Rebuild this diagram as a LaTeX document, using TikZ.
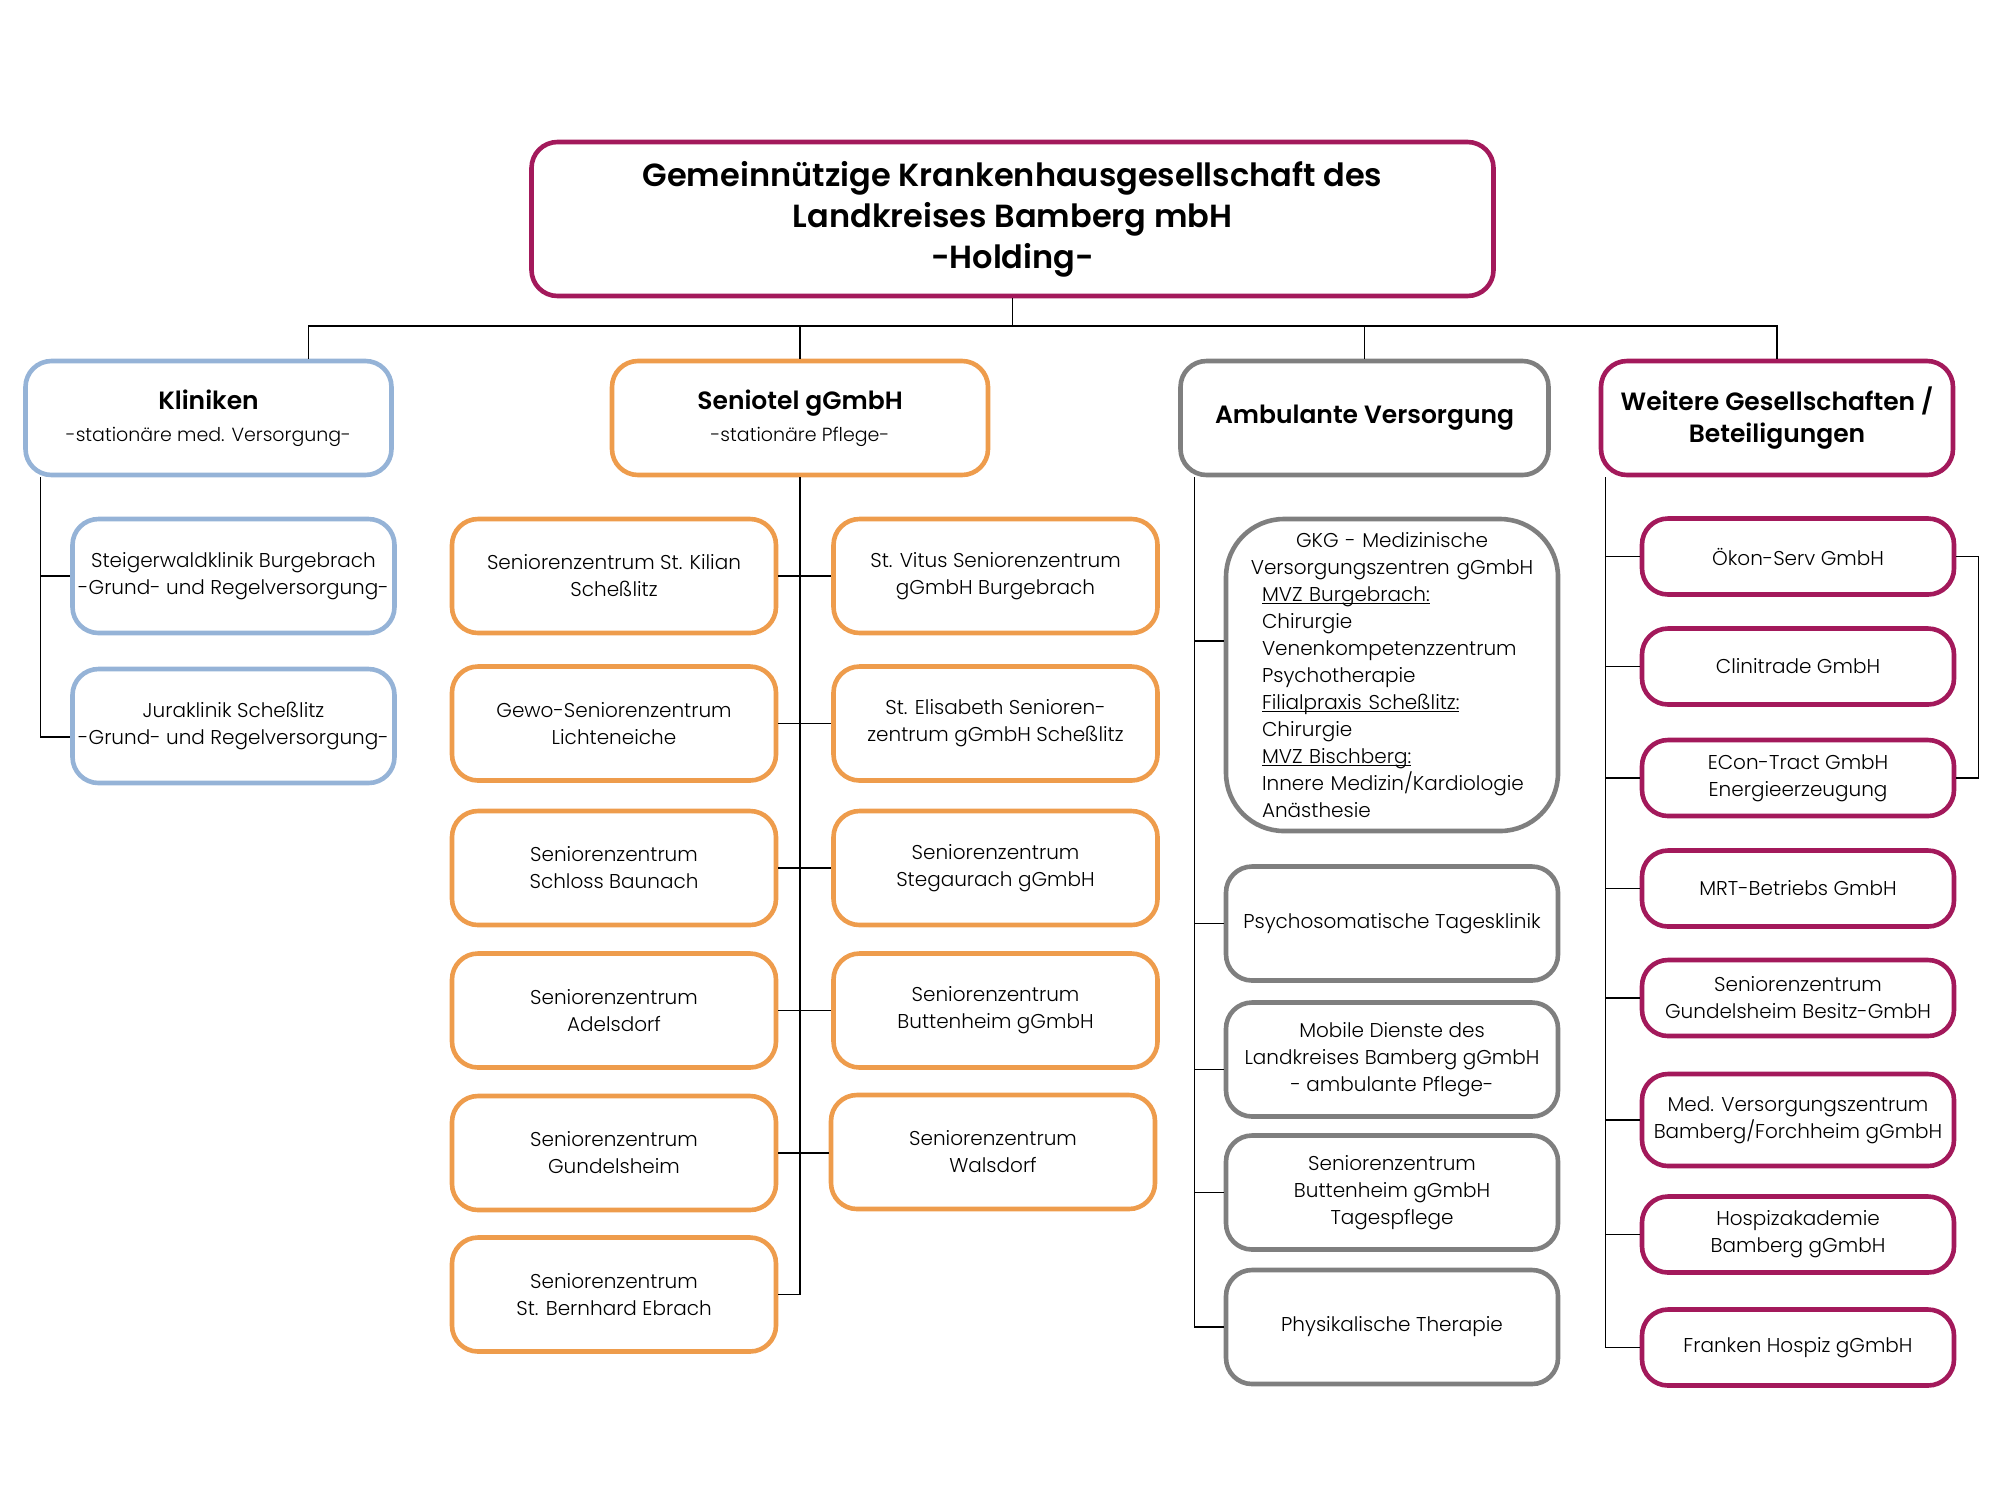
\documentclass[tikz,border=0pt]{standalone}
\usepackage{fontspec}
\setmainfont{Poppins}[UprightFont={Poppins Light},BoldFont={Poppins SemiBold}]
\definecolor{holdred}{HTML}{A3195B}
\definecolor{klblue}{HTML}{95B3D7}
\definecolor{snorange}{HTML}{EE9C4C}
\definecolor{ambgray}{HTML}{7F7F7F}
\newcommand{\subfont}{\fontsize{9.5}{12}\selectfont\mdseries}
\newlength{\ulwd}
\newcommand{\ulabel}[1]{\leavevmode\settowidth{\ulwd}{#1}\rlap{\rule[-1.4pt]{\ulwd}{0.5pt}}#1}
\tikzset{
  orgbox/.style={draw,line width=2.3pt,rounded corners=13pt,align=center,inner sep=1pt,
    fill=white,font=\fontsize{10}{13.5}\selectfont},
  headbox/.style={orgbox,minimum height=57pt,font=\fontsize{12.5}{16}\selectfont\bfseries},
  klbox/.style={orgbox,draw=klblue,minimum width=161pt,minimum height=57pt},
  snbox/.style={orgbox,draw=snorange,minimum width=162pt,minimum height=57pt},
  ambox/.style={orgbox,draw=ambgray,minimum width=166pt,minimum height=57pt},
  wgbox/.style={orgbox,draw=holdred,minimum width=156pt,minimum height=38pt}
}
\begin{document}
\begin{tikzpicture}[x=0.5pt,y=-0.5pt,line width=0.6pt]
\useasboundingbox (0,0) rectangle (2000,1500);
% holding
\node[orgbox,draw=holdred,minimum width=481pt,minimum height=77pt,
  font=\fontsize{16}{20.5}\selectfont\bfseries] (hold) at (1012.5,219)
  {Gemeinnützige Krankenhausgesellschaft des\\Landkreises Bamberg mbH\\-Holding-};
\coordinate (bus) at (1012.5,326);
% column heads
\node[headbox,draw=klblue,minimum width=183pt] (kl) at (208.5,418)
  {Kliniken\\{\subfont -stationäre med. Versorgung-}};
\node[headbox,draw=snorange,minimum width=188pt] (sen) at (800,418)
  {Seniotel gGmbH\\{\subfont -stationäre Pflege-}};
\node[headbox,draw=ambgray,minimum width=184pt] (amb) at (1364.5,418)
  {Ambulante Versorgung};
\node[headbox,draw=holdred,minimum width=176pt] (wg) at (1777,418)
  {Weitere Gesellschaften /\\Beteiligungen};
% Kliniken
\node[klbox] (stw) at (233.5,576) {Steigerwaldklinik Burgebrach\\-Grund- und Regelversorgung-};
\node[klbox] (jura) at (233.5,726) {Juraklinik Scheßlitz\\-Grund- und Regelversorgung-};
% Seniotel
\node[snbox] (s1l) at (614,576) {Seniorenzentrum St. Kilian\\Scheßlitz};
\node[snbox] (s1r) at (995.5,576) {St. Vitus Seniorenzentrum\\gGmbH Burgebrach};
\node[snbox] (s2l) at (614,723.5) {Gewo-Seniorenzentrum\\Lichteneiche};
\node[snbox] (s2r) at (995.5,723.5) {St. Elisabeth Senioren-\\zentrum gGmbH Scheßlitz};
\node[snbox] (s3l) at (614,868) {Seniorenzentrum\\Schloss Baunach};
\node[snbox] (s3r) at (995.5,868) {Seniorenzentrum\\Stegaurach gGmbH};
\node[snbox] (s4l) at (614,1010.5) {Seniorenzentrum\\Adelsdorf};
\node[snbox] (s4r) at (995.5,1010.5) {Seniorenzentrum\\Buttenheim gGmbH};
\node[snbox] (s5l) at (614,1153) {Seniorenzentrum\\Gundelsheim};
\node[snbox] (s5r) at (993,1152) {Seniorenzentrum\\Walsdorf};
\node[snbox] (s6l) at (614,1294.5) {Seniorenzentrum\\St. Bernhard Ebrach};
% Ambulante Versorgung
\node[ambox,minimum height=156pt,rounded corners=29pt,text width=158pt] (gkg) at (1392,675)
  {\centering GKG - Medizinische\\Versorgungszentren gGmbH\par
   \raggedright\leftskip=14pt
   \ulabel{MVZ Burgebrach:}\\Chirurgie\\Venenkompetenzzentrum\\Psychotherapie\\
   \ulabel{Filialpraxis Scheßlitz:}\\Chirurgie\\\ulabel{MVZ Bischberg:}\\
   Innere Medizin/Kardiologie\\Anästhesie\par};
\node[ambox] (psy) at (1392,923.5) {Psychosomatische Tagesklinik};
\node[ambox] (mob) at (1392,1059.5) {Mobile Dienste des\\Landkreises Bamberg gGmbH\\- ambulante Pflege-};
\node[ambox] (tpf) at (1392,1192.5) {Seniorenzentrum\\Buttenheim gGmbH\\Tagespflege};
\node[ambox] (phy) at (1392,1327) {Physikalische Therapie};
% Weitere Gesellschaften
\node[wgbox] (oek) at (1798,556.5) {Ökon-Serv GmbH};
\node[wgbox] (cli) at (1798,666.5) {Clinitrade GmbH};
\node[wgbox] (eco) at (1798,778) {ECon-Tract GmbH\\Energieerzeugung};
\node[wgbox] (mrt) at (1798,888.5) {MRT-Betriebs GmbH};
\node[wgbox] (szg) at (1798,998) {Seniorenzentrum\\Gundelsheim Besitz-GmbH};
\node[wgbox,minimum height=46pt] (mvz) at (1798,1120) {Med. Versorgungszentrum\\Bamberg/Forchheim gGmbH};
\node[wgbox] (hos) at (1798,1234.5) {Hospizakademie\\Bamberg gGmbH};
\node[wgbox] (fhg) at (1798,1347.5) {Franken Hospiz gGmbH};
% lines
\coordinate (kdrop) at ([xshift=50pt]kl.north);
\draw (hold.south) -- (bus);
\draw (kdrop) -- (kdrop |- bus) -- (wg.north |- bus) -- (wg.north);
\draw (sen.north) -- (sen.north |- bus);
\draw (amb.north) -- (amb.north |- bus);
\coordinate (kspine) at ([xshift=8.5pt]kl.south west);
\draw (kspine) |- (stw.west);
\draw (kspine) |- ([yshift=-5.5pt]jura.west);
\draw (sen.south) -- (sen.south |- s6l.east) -- (s6l.east);
\foreach \r in {1,...,5}
  \draw (s\r l.east) -- (s\r l.east -| s\r r.west);
\coordinate (aspine) at ([xshift=8pt]amb.south west);
\draw (aspine) |- (phy.west);
\draw (aspine |- gkg.west) ++(0,-34) -- ([yshift=17pt]gkg.west);
\foreach \n in {psy,tpf}
  \draw (aspine |- \n.west) -- (\n.west);
\draw (aspine |- mob.west) ++(0,10) -- ([yshift=-5pt]mob.west);
\coordinate (wspine) at ([xshift=3.5pt]wg.south west);
\draw (wspine) |- (fhg.west);
\foreach \n in {oek,cli,eco,mrt,szg,mvz,hos}
  \draw (wspine |- \n.west) -- (\n.west);
\draw (oek.east) -- ++(22,0) |- (eco.east);
\end{tikzpicture}
\end{document}
